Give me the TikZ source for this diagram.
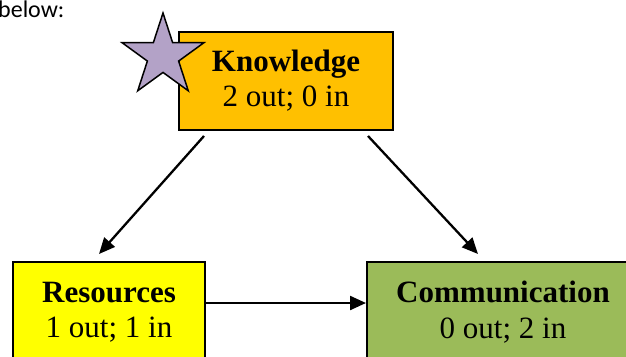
\documentclass[tikz,border=0pt]{standalone}
\usepackage{fontspec}
\setmainfont{Liberation Serif}
\newfontfamily\calib{Carlito}
\usetikzlibrary{shapes.geometric,arrows.meta}
\definecolor{kfill}{HTML}{FFC000}
\definecolor{rfill}{HTML}{FFFF00}
\definecolor{cfill}{HTML}{9BBB59}
\definecolor{starfill}{HTML}{B3A2C7}
\begin{document}
\begin{tikzpicture}[x=1pt,y=-1pt,
  box/.style={draw=black,line width=2pt,rectangle,inner sep=0pt,align=center,
    font=\fontsize{31}{35.5}\selectfont},
  arr/.style={line width=2.3pt,-{Triangle[length=16pt,width=14pt]}}]
\useasboundingbox (0,0) rectangle (626,356);
\clip (0,0) rectangle (626,356);
\node[anchor=base west,inner sep=0pt,font=\calib\fontsize{24}{28}\selectfont] (txt) at (-2,17) {below:};
\node[box,fill=kfill,minimum width=214pt,minimum height=98pt] (k) at (286,80.5) {\textbf{Knowledge}\\2 out; 0 in};
\node[box,fill=rfill,minimum width=192pt,minimum height=100pt] (r) at (109,312) {\textbf{Resources}\\1 out; 1 in};
\node[box,fill=cfill,minimum width=272pt,minimum height=100pt] (c) at (503,312) {\textbf{Communication}\\0 out; 2 in};
\node[star,star points=5,star point ratio=2.618,minimum size=86pt,inner sep=0pt,draw=black,line width=1.5pt,fill=starfill] (s) at (163,56) {};
\draw[arr] ([xshift=26pt,yshift=-5.5pt]k.south west) -- ([xshift=-10pt,yshift=7pt]r.north);
\draw[arr] ([xshift=-26pt,yshift=-5.5pt]k.south east) -- ([xshift=-25pt,yshift=7pt]c.north);
\draw[arr] ([yshift=9pt]r.east) -- ([yshift=9pt]c.west);
\end{tikzpicture}
\end{document}
